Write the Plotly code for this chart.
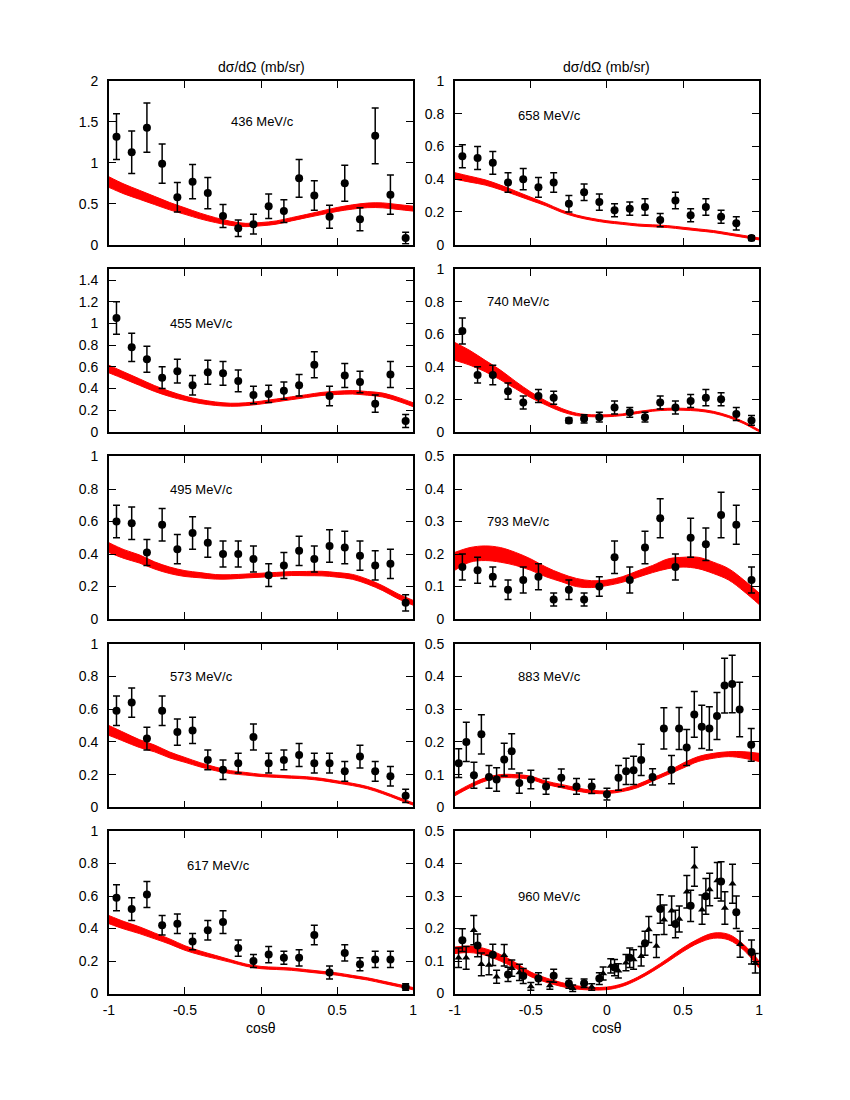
import plotly.graph_objects as go

# bin centres used by most data sets and x grid for the theory bands
x_bins = [-0.95, -0.85, -0.75, -0.65, -0.55, -0.45, -0.35, -0.25, -0.15, -0.05,
          0.05, 0.15, 0.25, 0.35, 0.45, 0.55, 0.65, 0.75, 0.85, 0.95]
x_band = [-1.0, -0.9, -0.8, -0.7, -0.6, -0.5, -0.4, -0.3, -0.2, -0.1, 0.0,
          0.1, 0.2, 0.3, 0.4, 0.5, 0.6, 0.7, 0.8, 0.9, 1.0]

# 436 MeV/c
y436 = [1.32, 1.13, 1.43, 0.99, 0.58, 0.77, 0.63, 0.35, 0.20, 0.25,
        0.47, 0.41, 0.81, 0.60, 0.34, 0.75, 0.31, 1.33, 0.61, 0.08]
e436 = [0.28, 0.26, 0.30, 0.24, 0.18, 0.21, 0.19, 0.14, 0.10, 0.12,
        0.15, 0.14, 0.23, 0.18, 0.14, 0.22, 0.14, 0.34, 0.24, 0.07]
lo436 = [0.70, 0.62, 0.555, 0.49, 0.425, 0.37, 0.315, 0.27, 0.235, 0.22, 0.23,
         0.25, 0.29, 0.33, 0.368, 0.406, 0.434, 0.452, 0.45, 0.43, 0.41]
hi436 = [0.83, 0.74, 0.665, 0.59, 0.515, 0.45, 0.385, 0.33, 0.285, 0.26, 0.27,
         0.29, 0.33, 0.37, 0.412, 0.454, 0.486, 0.508, 0.51, 0.49, 0.47]

# 455 MeV/c
y455 = [1.05, 0.78, 0.67, 0.50, 0.56, 0.43, 0.55, 0.54, 0.47, 0.34,
        0.35, 0.38, 0.43, 0.62, 0.33, 0.52, 0.46, 0.26, 0.53, 0.10]
e455 = [0.15, 0.13, 0.12, 0.10, 0.11, 0.09, 0.11, 0.11, 0.10, 0.08,
        0.08, 0.08, 0.10, 0.12, 0.09, 0.11, 0.10, 0.08, 0.12, 0.06]
lo455 = [0.545, 0.488, 0.43, 0.373, 0.326, 0.29, 0.262, 0.244, 0.236, 0.242, 0.257,
         0.277, 0.297, 0.317, 0.336, 0.345, 0.349, 0.338, 0.322, 0.282, 0.232]
hi455 = [0.615, 0.552, 0.49, 0.427, 0.374, 0.33, 0.298, 0.276, 0.264, 0.268, 0.283,
         0.303, 0.323, 0.343, 0.364, 0.375, 0.381, 0.372, 0.358, 0.318, 0.268]

# 495 MeV/c
y495 = [0.60, 0.59, 0.41, 0.58, 0.43, 0.53, 0.47, 0.40, 0.40, 0.37,
        0.27, 0.33, 0.42, 0.37, 0.45, 0.44, 0.39, 0.33, 0.34, 0.10]
e495 = [0.10, 0.10, 0.08, 0.10, 0.09, 0.10, 0.09, 0.08, 0.08, 0.08,
        0.07, 0.08, 0.09, 0.08, 0.10, 0.10, 0.09, 0.09, 0.09, 0.05]
lo495 = [0.41, 0.373, 0.345, 0.308, 0.28, 0.262, 0.254, 0.246, 0.247, 0.253, 0.258,
         0.263, 0.268, 0.267, 0.266, 0.258, 0.245, 0.215, 0.175, 0.125, 0.085]
hi495 = [0.47, 0.427, 0.395, 0.352, 0.32, 0.298, 0.286, 0.274, 0.273, 0.277, 0.282,
         0.287, 0.292, 0.293, 0.294, 0.286, 0.275, 0.245, 0.205, 0.155, 0.115]

# 573 MeV/c
y573 = [0.59, 0.64, 0.42, 0.59, 0.46, 0.47, 0.29, 0.23, 0.27, 0.43,
        0.27, 0.29, 0.32, 0.27, 0.27, 0.22, 0.31, 0.22, 0.19, 0.07]
e573 = [0.09, 0.09, 0.07, 0.09, 0.08, 0.08, 0.06, 0.06, 0.06, 0.08,
        0.06, 0.06, 0.07, 0.06, 0.06, 0.06, 0.07, 0.06, 0.06, 0.04]
lo573 = [0.44, 0.403, 0.366, 0.339, 0.302, 0.275, 0.247, 0.224, 0.206, 0.197, 0.188,
         0.183, 0.178, 0.173, 0.163, 0.148, 0.133, 0.113, 0.083, 0.048, 0.013]
hi573 = [0.50, 0.457, 0.414, 0.381, 0.338, 0.305, 0.273, 0.246, 0.224, 0.213, 0.202,
         0.197, 0.192, 0.187, 0.177, 0.162, 0.147, 0.127, 0.097, 0.062, 0.027]

# 617 MeV/c
y617 = [0.59, 0.52, 0.61, 0.42, 0.43, 0.32, 0.39, 0.44, 0.28, 0.20,
        0.24, 0.22, 0.22, 0.36, 0.13, 0.25, 0.18, 0.21, 0.21, 0.04]
e617 = [0.08, 0.07, 0.08, 0.06, 0.06, 0.05, 0.06, 0.07, 0.05, 0.04,
        0.05, 0.04, 0.05, 0.06, 0.04, 0.05, 0.04, 0.05, 0.05, 0.02]
lo617 = [0.43, 0.397, 0.369, 0.337, 0.304, 0.266, 0.238, 0.215, 0.192, 0.168, 0.153,
         0.148, 0.143, 0.133, 0.123, 0.113, 0.098, 0.083, 0.063, 0.043, 0.023]
hi617 = [0.48, 0.443, 0.411, 0.373, 0.336, 0.294, 0.262, 0.235, 0.208, 0.182, 0.167,
         0.162, 0.157, 0.147, 0.137, 0.127, 0.112, 0.097, 0.077, 0.057, 0.037]

# 658 MeV/c
y658 = [0.54, 0.53, 0.50, 0.38, 0.40, 0.35, 0.38, 0.25, 0.32, 0.26,
        0.21, 0.22, 0.23, 0.15, 0.27, 0.18, 0.23, 0.17, 0.13, 0.04]
e658 = [0.07, 0.07, 0.07, 0.06, 0.065, 0.06, 0.06, 0.05, 0.05, 0.05,
        0.04, 0.04, 0.05, 0.04, 0.05, 0.04, 0.05, 0.04, 0.04, 0.015]
lo658 = [0.40, 0.382, 0.364, 0.336, 0.303, 0.27, 0.237, 0.198, 0.169, 0.149, 0.134,
         0.124, 0.114, 0.109, 0.104, 0.094, 0.084, 0.074, 0.059, 0.044, 0.029]
hi658 = [0.44, 0.418, 0.396, 0.364, 0.327, 0.29, 0.253, 0.212, 0.181, 0.161, 0.146,
         0.136, 0.126, 0.121, 0.116, 0.106, 0.096, 0.086, 0.071, 0.056, 0.041]

# 740 MeV/c
y740 = [0.62, 0.35, 0.35, 0.25, 0.18, 0.22, 0.21, 0.07, 0.08, 0.09,
        0.15, 0.12, 0.09, 0.18, 0.15, 0.19, 0.21, 0.20, 0.11, 0.07]
e740 = [0.08, 0.05, 0.06, 0.05, 0.04, 0.04, 0.04, 0.015, 0.025, 0.03,
        0.04, 0.03, 0.03, 0.04, 0.04, 0.04, 0.05, 0.04, 0.04, 0.03]
lo740 = [0.44, 0.41, 0.37, 0.32, 0.265, 0.21, 0.165, 0.125, 0.10, 0.093, 0.093,
         0.10, 0.113, 0.127, 0.133, 0.133, 0.128, 0.114, 0.088, 0.05, 0.0]
hi740 = [0.55, 0.50, 0.44, 0.38, 0.31, 0.245, 0.19, 0.145, 0.115, 0.105, 0.105,
         0.11, 0.125, 0.137, 0.145, 0.145, 0.14, 0.126, 0.10, 0.062, 0.012]

# 793 MeV/c
y793 = [0.16, 0.15, 0.13, 0.09, 0.12, 0.13, 0.06, 0.09, 0.06, 0.10,
        0.19, 0.12, 0.22, 0.31, 0.16, 0.25, 0.23, 0.32, 0.29, 0.12]
e793 = [0.04, 0.04, 0.03, 0.03, 0.04, 0.04, 0.02, 0.03, 0.02, 0.03,
        0.05, 0.04, 0.05, 0.06, 0.04, 0.06, 0.05, 0.07, 0.06, 0.04]
lo793 = [0.15, 0.175, 0.18, 0.175, 0.165, 0.15, 0.13, 0.115, 0.10, 0.097, 0.103,
         0.113, 0.128, 0.143, 0.155, 0.16, 0.155, 0.14, 0.12, 0.085, 0.045]
hi793 = [0.205, 0.22, 0.225, 0.22, 0.205, 0.185, 0.16, 0.14, 0.125, 0.118, 0.12,
         0.13, 0.148, 0.165, 0.185, 0.19, 0.19, 0.175, 0.155, 0.12, 0.08]

# 883 MeV/c
x883 = [-0.974, -0.924, -0.874, -0.825, -0.775, -0.725, -0.675, -0.626, -0.576, -0.50,
        -0.40, -0.30, -0.20, -0.10, 0.0, 0.076, 0.126, 0.175, 0.225, 0.30,
        0.374, 0.424, 0.474, 0.524, 0.574, 0.623, 0.673, 0.723, 0.773, 0.823,
        0.872, 0.948]
y883 = [0.135, 0.20, 0.098, 0.223, 0.093, 0.085, 0.146, 0.171, 0.074, 0.085,
        0.064, 0.09, 0.064, 0.064, 0.04, 0.09, 0.11, 0.113, 0.145, 0.093,
        0.241, 0.115, 0.241, 0.183, 0.284, 0.246, 0.241, 0.279, 0.372, 0.377,
        0.299, 0.191]
e883 = [0.044, 0.06, 0.04, 0.06, 0.035, 0.036, 0.05, 0.054, 0.031, 0.028,
        0.024, 0.027, 0.024, 0.022, 0.018, 0.038, 0.04, 0.043, 0.048, 0.025,
        0.063, 0.043, 0.064, 0.055, 0.07, 0.066, 0.066, 0.072, 0.084, 0.088,
        0.083, 0.05]
lo883 = [0.035, 0.06, 0.08, 0.09, 0.09, 0.085, 0.07, 0.06, 0.05, 0.043, 0.042,
         0.048, 0.06, 0.08, 0.10, 0.12, 0.14, 0.15, 0.155, 0.15, 0.14]
hi883 = [0.045, 0.07, 0.09, 0.10, 0.10, 0.095, 0.08, 0.07, 0.06, 0.052, 0.05,
         0.056, 0.07, 0.09, 0.11, 0.135, 0.155, 0.165, 0.17, 0.17, 0.165]

# 960 MeV/c, two data sets (circles and triangles)
x960c = [-0.95, -0.85, -0.75, -0.65, -0.55, -0.45, -0.35, -0.25, -0.15, -0.05,
         0.05, 0.15, 0.25, 0.35, 0.45, 0.55, 0.65, 0.75, 0.85, 0.95]
y960c = [0.164, 0.148, 0.119, 0.059, 0.054, 0.046, 0.055, 0.031, 0.032, 0.046,
         0.08, 0.11, 0.155, 0.26, 0.214, 0.27, 0.299, 0.345, 0.25, 0.128]
e960c = [0.035, 0.035, 0.033, 0.022, 0.023, 0.018, 0.02, 0.015, 0.013, 0.018,
         0.025, 0.03, 0.037, 0.044, 0.042, 0.048, 0.055, 0.06, 0.05, 0.037]
x960t = [-0.975, -0.925, -0.875, -0.825, -0.775, -0.725, -0.675, -0.625, -0.575, -0.50,
         -0.375, -0.225, -0.10, -0.025, 0.025, 0.075, 0.125, 0.175, 0.225, 0.275,
         0.325, 0.375, 0.425, 0.475, 0.525, 0.575, 0.625, 0.675, 0.725, 0.775,
         0.825, 0.875, 0.975]
y960t = [0.11, 0.11, 0.195, 0.09, 0.088, 0.052, 0.118, 0.078, 0.065, 0.022,
         0.025, 0.016, 0.02, 0.062, 0.085, 0.07, 0.095, 0.105, 0.115, 0.197,
         0.146, 0.227, 0.255, 0.229, 0.313, 0.39, 0.258, 0.32, 0.348, 0.263,
         0.338, 0.152, 0.093]
e960t = [0.03, 0.035, 0.045, 0.035, 0.03, 0.02, 0.033, 0.025, 0.025, 0.012,
         0.012, 0.01, 0.01, 0.02, 0.022, 0.022, 0.025, 0.03, 0.03, 0.04,
         0.035, 0.045, 0.045, 0.04, 0.05, 0.06, 0.045, 0.05, 0.055, 0.05,
         0.06, 0.04, 0.03]
lo960 = [0.123, 0.126, 0.118, 0.10, 0.078, 0.052, 0.035, 0.022, 0.014, 0.011, 0.012,
         0.022, 0.042, 0.068, 0.098, 0.129, 0.155, 0.17, 0.165, 0.133, 0.079]
hi960 = [0.143, 0.146, 0.138, 0.12, 0.095, 0.066, 0.048, 0.034, 0.024, 0.019, 0.02,
         0.03, 0.05, 0.077, 0.108, 0.141, 0.168, 0.186, 0.182, 0.15, 0.10]

labels = ["436 MeV/c", "455 MeV/c", "495 MeV/c", "573 MeV/c", "617 MeV/c",
          "658 MeV/c", "740 MeV/c", "793 MeV/c", "883 MeV/c", "960 MeV/c"]

# panels: (label, col, row, ymax, dtick, points, band, label position)
panels = [
    (labels[0], 0, 0, 2.0, 0.5, [(x_bins, y436, e436, "circle")], (lo436, hi436), (0.01, 1.5)),
    (labels[1], 0, 1, 1.5, 0.2, [(x_bins, y455, e455, "circle")], (lo455, hi455), (-0.39, 1.0)),
    (labels[2], 0, 2, 1.0, 0.2, [(x_bins, y495, e495, "circle")], (lo495, hi495), (-0.39, 0.8)),
    (labels[3], 0, 3, 1.0, 0.2, [(x_bins, y573, e573, "circle")], (lo573, hi573), (-0.39, 0.8)),
    (labels[4], 0, 4, 1.0, 0.2, [(x_bins, y617, e617, "circle")], (lo617, hi617), (-0.28, 0.79)),
    (labels[5], 1, 0, 1.0, 0.2, [(x_bins, y658, e658, "circle")], (lo658, hi658), (-0.38, 0.79)),
    (labels[6], 1, 1, 1.0, 0.2, [(x_bins, y740, e740, "circle")], (lo740, hi740), (-0.58, 0.8)),
    (labels[7], 1, 2, 0.5, 0.1, [(x_bins, y793, e793, "circle")], (lo793, hi793), (-0.58, 0.3)),
    (labels[8], 1, 3, 0.5, 0.1, [(x883, y883, e883, "circle")], (lo883, hi883), (-0.38, 0.4)),
    (labels[9], 1, 4, 0.5, 0.1, [(x960t, y960t, e960t, "triangle-up"),
                                 (x960c, y960c, e960c, "circle")], (lo960, hi960), (-0.38, 0.3)),
]

W, H = 850, 1100
OFF = 8  # the page body margin shifts the whole figure by 8px
col_px = [(104, 412), (454, 762)]
row_px = [(74, 240), (265, 430), (455, 620), (645, 811), (835, 1000)]
font = "Liberation Sans, Arial, sans-serif"


def px_x(p):
    return (p - OFF) / W


def px_y(p):
    return 1 - (p - OFF) / H


fig = go.Figure()
layout = {}
for i, (label, col, row, ymax, dtick, points, band, pos) in enumerate(panels):
    n = "" if i == 0 else str(i + 1)
    xa, ya = "x" + n, "y" + n
    lo, hi = band
    fig.add_trace(go.Scatter(x=x_band, y=hi, xaxis=xa, yaxis=ya, mode="lines",
                             line=dict(color="#ff0000", width=1, shape="spline"),
                             showlegend=False, hoverinfo="skip"))
    fig.add_trace(go.Scatter(x=x_band, y=lo, xaxis=xa, yaxis=ya, mode="lines",
                             line=dict(color="#ff0000", width=1, shape="spline"),
                             fill="tonexty", fillcolor="#ff0000",
                             showlegend=False, hoverinfo="skip"))
    for px, py, pe, sym in points:
        fig.add_trace(go.Scatter(
            x=px, y=py, xaxis=xa, yaxis=ya, mode="markers",
            marker=dict(symbol=sym, color="black", size=8 if sym == "circle" else 7),
            error_y=dict(type="data", array=pe, color="black", thickness=1.5, width=3.5),
            showlegend=False, cliponaxis=False))
    x0, x1 = col_px[col]
    y0, y1 = row_px[row]
    layout["xaxis" + n] = dict(
        domain=[px_x(x0), px_x(x1)], anchor=ya, range=[-1, 1],
        tickvals=[-1, -0.5, 0, 0.5, 1], ticktext=["-1", "-0.5", "0", "0.5", "1"],
        showticklabels=(row == 4), ticks="inside", ticklen=7, tickwidth=1,
        tickcolor="black", mirror="allticks", showline=True, linecolor="black",
        linewidth=1.5, showgrid=False, zeroline=False, ticklabelstandoff=3,
        tickfont=dict(family=font, size=14, color="black"))
    layout["yaxis" + n] = dict(
        domain=[px_y(y1), px_y(y0)], anchor=xa, range=[0, ymax], dtick=dtick,
        ticks="inside", ticklen=7, tickwidth=1, tickcolor="black",
        mirror="allticks", showline=True, linecolor="black", linewidth=1.5,
        showgrid=False, zeroline=False, ticklabelstandoff=6,
        tickfont=dict(family=font, size=14, color="black"))
    fig.add_annotation(x=pos[0], y=pos[1], xref=xa, yref=ya, text=label,
                       xanchor="center", yanchor="middle", showarrow=False,
                       font=dict(family=font, size=13, color="black"))

for col in range(2):
    xc = px_x((col_px[col][0] + col_px[col][1]) / 2)
    fig.add_annotation(x=xc, y=px_y(60), xref="paper", yref="paper",
                       text="dσ/dΩ (mb/sr)", showarrow=False,
                       xanchor="center", yanchor="middle",
                       font=dict(family=font, size=14, color="black"))
    fig.add_annotation(x=xc, y=px_y(1025), xref="paper", yref="paper",
                       text="cosθ", showarrow=False,
                       xanchor="center", yanchor="top",
                       font=dict(family=font, size=14, color="black"))

fig.update_layout(width=W, height=H, margin=dict(l=0, r=0, t=0, b=0),
                  plot_bgcolor="white", paper_bgcolor="white", **layout)

fig.write_html("out.html")
